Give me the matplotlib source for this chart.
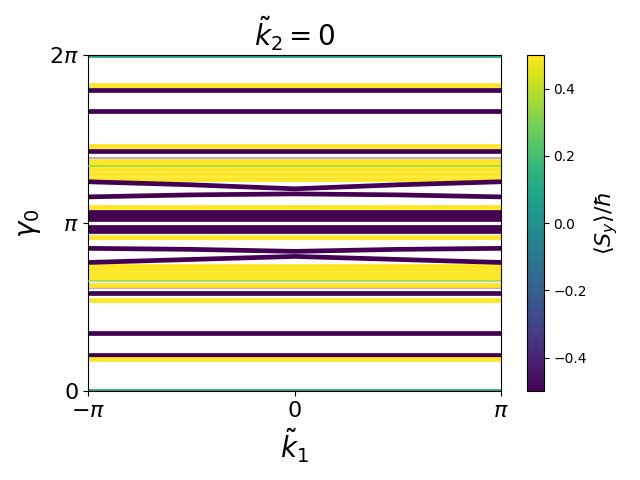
import numpy as np
import matplotlib
matplotlib.use("Agg")
import matplotlib.pyplot as plt

# flat bands: gamma_0 in units of pi, and <S_y>/hbar
flat_levels = [2.000, 1.820, 1.790, 1.665, 1.461, 1.431, 1.389, 1.371, 1.353,
               1.323, 1.293, 1.263, 1.341, 1.096, 1.066, 1.042, 1.024, 0.976,
               0.952, 0.916, 0.743, 0.725, 0.695, 0.671, 0.635, 0.653, 0.617,
               0.587, 0.545, 0.347, 0.216, 0.192, 0.000]
flat_spin = [0.1, 0.5, -0.5, -0.5, 0.5, -0.5, -0.45, 0.5, 0.5,
             0.5, 0.5, 0.5, 0.3, 0.5, -0.5, -0.5, -0.5, -0.5,
             -0.5, 0.5, 0.5, 0.5, 0.5, 0.5, 0.5, 0.3, -0.45,
             -0.5, 0.5, -0.5, -0.5, 0.5, 0.1]

# bands that bend a little, read at k1 = -pi, -pi/2, 0, pi/2, pi
k1_pts = [-np.pi, -np.pi / 2, 0, np.pi / 2, np.pi]
curved_bands = [[1.246, 1.228, 1.204, 1.228, 1.246],
                [1.156, 1.168, 1.174, 1.168, 1.156],
                [0.850, 0.844, 0.832, 0.844, 0.850],
                [0.766, 0.784, 0.802, 0.784, 0.766]]
curved_spin = [-0.5, -0.5, -0.5, -0.5]

cmap = plt.get_cmap("viridis")
norm = plt.Normalize(-0.5, 0.5)

fig, ax = plt.subplots(figsize=(6.4, 4.8), dpi=100)

for lev, s in zip(flat_levels, flat_spin):
    # the faint mixed-spin lines sit inside the yellow blocks
    if abs(s) < 0.45 and 0 < lev < 2:
        lw, alpha, z = 1.5, 0.6, 3
    elif s == -0.45:
        lw, alpha, z = 1.5, 0.35, 1
    else:
        lw, alpha, z = 3.4, 1.0, 2
    ax.plot([-np.pi, np.pi], [lev * np.pi, lev * np.pi], color=cmap(norm(s)),
            lw=lw, alpha=alpha, zorder=z, solid_capstyle="butt")

for band, s in zip(curved_bands, curved_spin):
    ax.plot(k1_pts, np.array(band) * np.pi, color=cmap(norm(s)),
            lw=3.4, zorder=2, solid_capstyle="butt")

ax.set_xlim(-np.pi, np.pi)
ax.set_ylim(0, 2 * np.pi)
ax.set_xticks([-np.pi, 0, np.pi])
ax.set_xticklabels([r"$-\pi$", r"$0$", r"$\pi$"], fontsize=16)
ax.set_yticks([0, np.pi, 2 * np.pi])
ax.set_yticklabels([r"$0$", r"$\pi$", r"$2\pi$"], fontsize=16)
ax.set_xlabel(r"$\tilde{k}_1$", fontsize=20)
ax.set_ylabel(r"$\gamma_0$", fontsize=20)
ax.set_title(r"$\tilde{k}_2=0$", fontsize=20)

sm = plt.cm.ScalarMappable(norm=norm, cmap=cmap)
cb = fig.colorbar(sm, ax=ax)
cb.set_label(r"$\langle S_y\rangle/\hbar$", fontsize=16)

plt.tight_layout()
plt.savefig("out.png")
